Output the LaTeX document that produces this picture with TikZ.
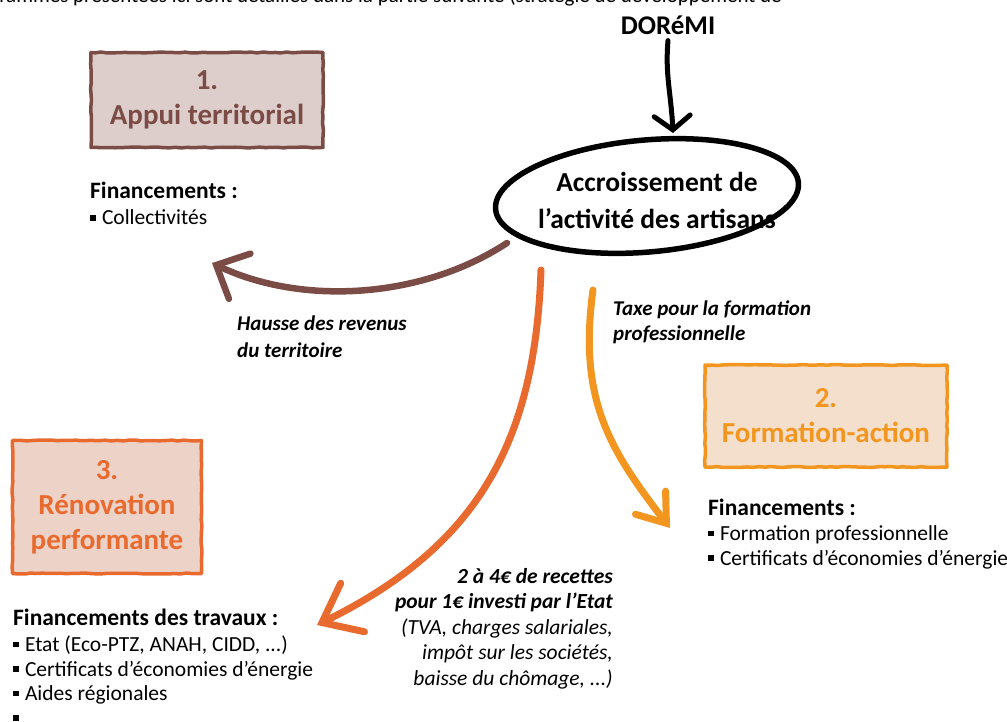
\documentclass[tikz,border=0pt]{standalone}
\usepackage{fontspec}
\setmainfont{Carlito}
\usetikzlibrary{arrows.meta,shapes.geometric,decorations.pathmorphing,calc}

\definecolor{brownc}{HTML}{7B4B45}
\definecolor{brownf}{HTML}{DDCECC}
\definecolor{orangec}{HTML}{E96A2E}
\definecolor{orangef}{HTML}{EDD2C8}
\definecolor{amberc}{HTML}{F2961F}
\definecolor{amberf}{HTML}{F3DFCB}

% small square bullet
\newcommand{\sqbullet}{\rule[0.2em]{0.25em}{0.25em}\hspace{0.3em}}
% list heading
\newcommand{\listhead}[1]{{\fontsize{23.5}{25}\selectfont\bfseries #1}}

\begin{document}
\begin{tikzpicture}[x=1pt,y=-1pt,
  sketch/.style={decorate,decoration={random steps,segment length=6pt,amplitude=0.5pt}},
  prog/.style={draw,line width=3.5pt,sketch,line join=round,
    font=\fontsize{29}{35}\selectfont\bfseries,align=center,inner sep=0pt},
  body/.style={anchor=base west,align=left,inner sep=0pt,font=\fontsize{21.5}{24.5}\selectfont},
  note/.style={anchor=base west,align=left,inner sep=0pt,font=\fontsize{21}{25}\selectfont\bfseries\itshape},
  flow/.style={line cap=round,line join=round},
]
\pgfmathsetseed{11}
\useasboundingbox (0,0) rectangle (1007,722);
\clip (0,0) rectangle (1007,722);

% running text line at the top of the page
\node[anchor=base west,inner sep=0pt,font=\fontsize{21}{25}\selectfont] (intro) at (73,3)
  {\llap{programmes }présentées ici sont détaillés dans la partie suivante (stratégie de développement de};

% origin and central effect
\node[inner sep=0pt,font=\fontsize{27}{30}\selectfont\bfseries] (dor) at (668,25) {DORéMI};
\node[draw,ellipse,line width=5.5pt,minimum width=304pt,minimum height=112pt,rotate=5] (act) at (647,196) {};
\node[inner sep=0pt,align=center,font=\fontsize{27.5}{37}\selectfont\bfseries] (acttxt) at (657,200)
  {Accroissement de\\l’activité des artisans};

% the three programmes
\node[prog,draw=brownc,fill=brownf,text=brownc,minimum width=232pt,minimum height=95pt] (p1) at (207,100) {1.\\Appui territorial};
\node[prog,draw=amberc,fill=amberf,text=amberc,minimum width=242pt,minimum height=102pt] (p2) at (826,416) {2.\\Formation-action};
\node[prog,draw=orangec,fill=orangef,text=orangec,minimum width=189pt,minimum height=133pt] (p3) at (107,507) {3.\\Rénovation\\performante};

% funding lists (anchored on the baseline of their last line)
\node[body] (f1) at (90,225) {\listhead{Financements :}\\[2pt]\sqbullet Collectivités};
\node[body] (f2) at (708,565) {\listhead{Financements :}\\[1pt]\sqbullet Formation professionnelle\\\sqbullet Certificats d’économies d’énergie};
\node[body] (f3) at (13,725) {\listhead{Financements des travaux :}\\[2pt]\sqbullet Etat (Eco-PTZ, ANAH, CIDD, ...)\\\sqbullet Certificats d’économies d’énergie\\\sqbullet Aides régionales\\\sqbullet};

% flow labels
\node[note] (l1) at (237,357) {Hausse des revenus\\[2pt]du territoire};
\node[note] (l2) at (613,340) {Taxe pour la formation\\professionnelle};
\node[anchor=base east,align=right,inner sep=0pt,font=\fontsize{21.5}{25.5}\selectfont\itshape] (l3) at (613,685)
  {\textbf{2 à 4€ de recettes}\\\textbf{pour 1€ investi par l’Etat}\\(TVA, charges salariales,\\impôt sur les sociétés,\\baisse du chômage, ...)};

% arrow ends
\coordinate (tdor) at ($(act.center)+(26,-63)$);
\coordinate (t1) at (212,263);
\coordinate (t3) at (317,625);
\coordinate (t2) at (670,528);

% arrows
\draw[flow,line width=5pt,-{Straight Barb[length=14pt,width=36pt,line cap=round]}]
  ($(dor.south)+(0,6)$) .. controls ($(dor.south)+(-3,40)$) and ($(tdor)+(-2,-40)$) .. (tdor);
\draw[flow,brownc,line width=6.5pt,-{Straight Barb[length=26pt,width=50pt,line cap=round]}]
  ($(act.center)+(-140,47)$) .. controls (420,300) and (300,305) .. (t1);
\draw[flow,orangec,line width=7pt,-{Straight Barb[length=34pt,width=54pt,line cap=round]}]
  ($(act.center)+(-106,74)$) .. controls (535,440) and (480,545) .. (t3);
\draw[flow,amberc,line width=7pt,-{Straight Barb[length=26pt,width=38pt,line cap=round]}]
  ($(act.center)+(-54,94)$) .. controls (578,400) and (610,450) .. (t2);
\end{tikzpicture}
\end{document}
